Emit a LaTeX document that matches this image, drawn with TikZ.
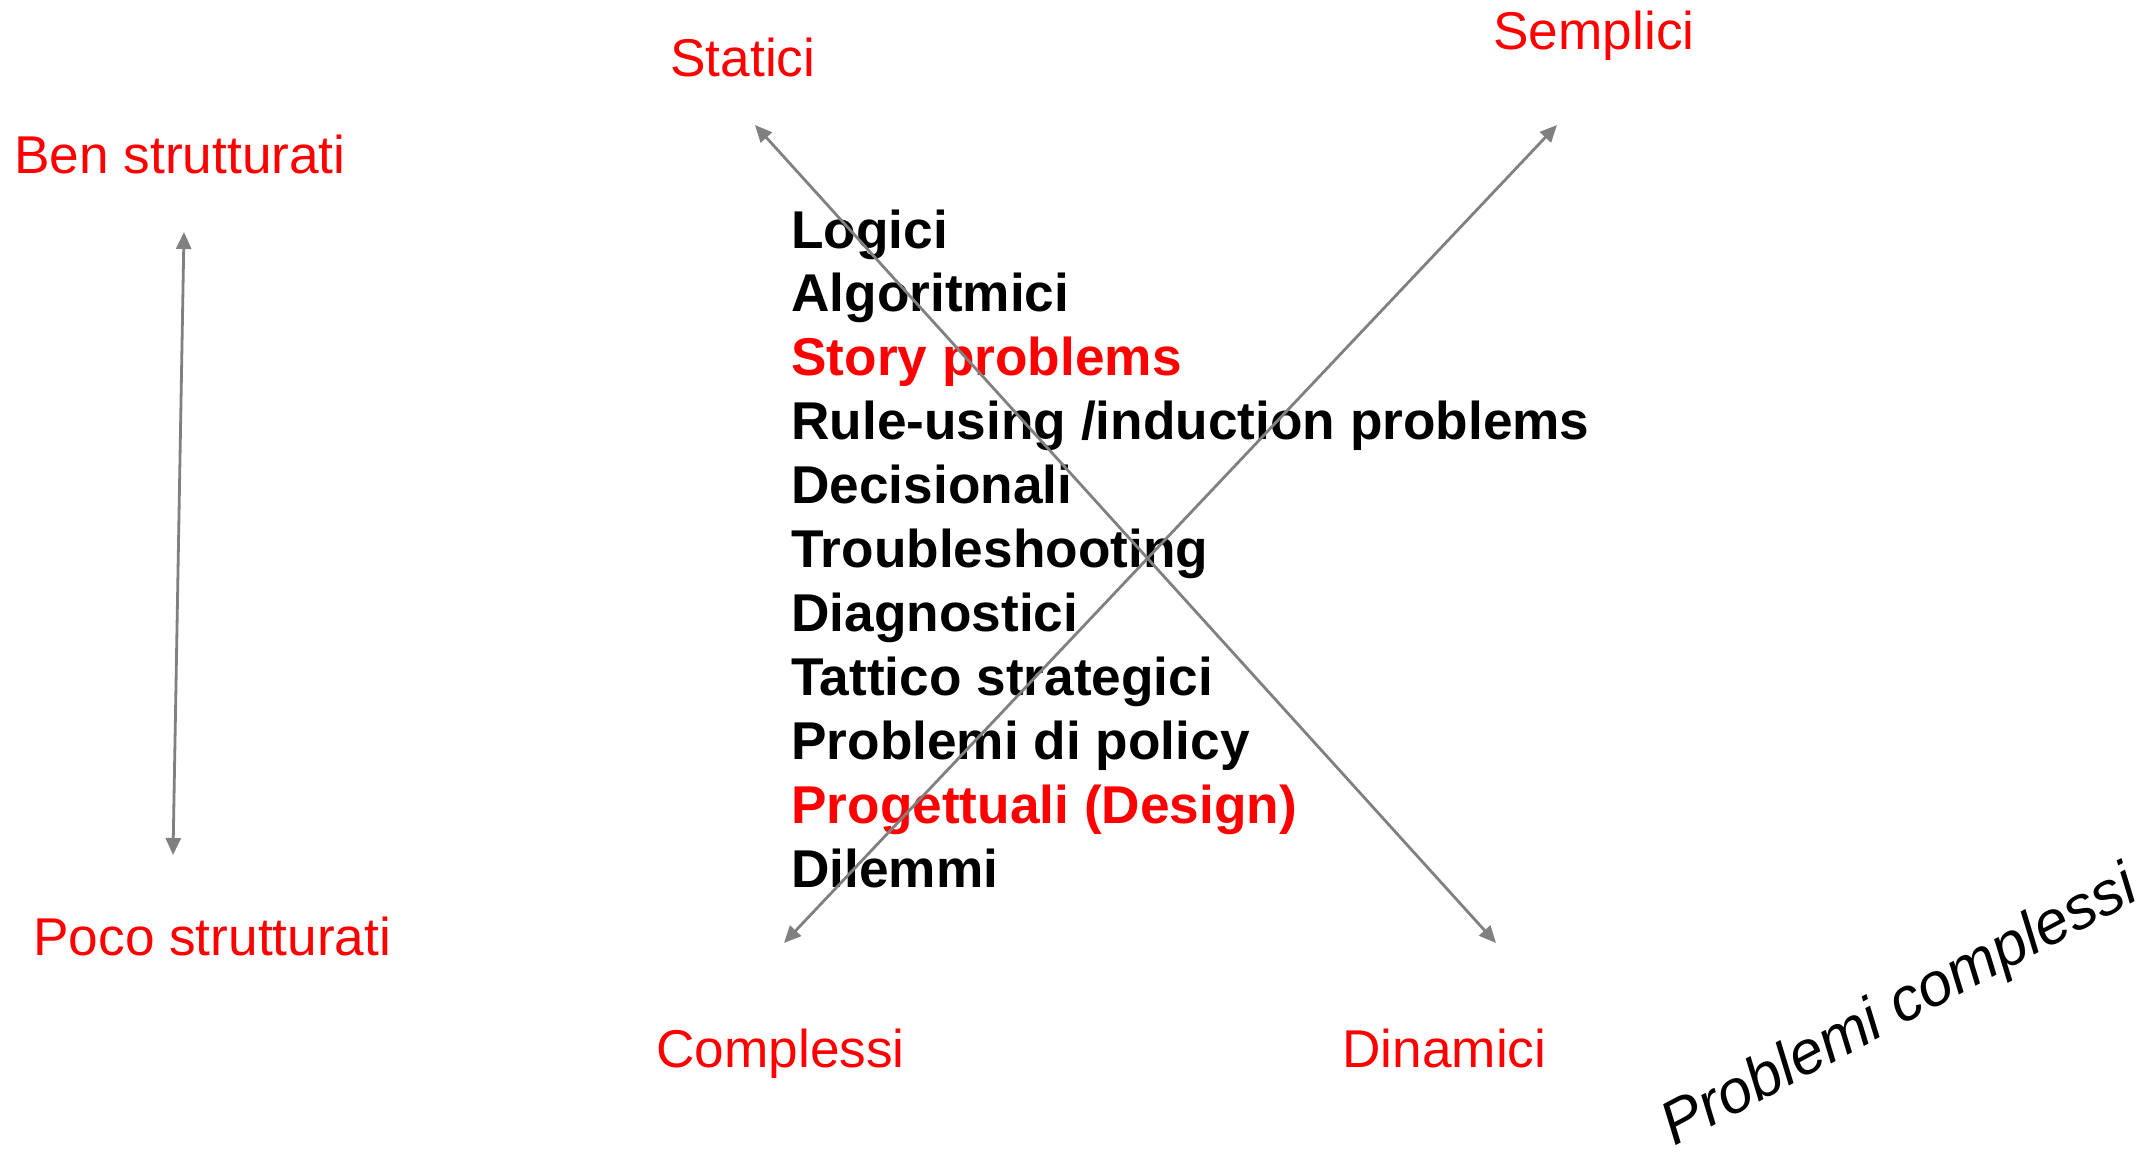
\documentclass[tikz,border=0pt]{standalone}
\usepackage{fontspec}
\setmainfont{Liberation Sans}
\usetikzlibrary{arrows.meta}
\definecolor{axisred}{RGB}{255,0,0}
\definecolor{axisgray}{RGB}{128,128,128}
\tikzset{
  axislabel/.style={anchor=base west, inner sep=0pt, text=axisred, font=\fontsize{26.6}{30}\selectfont},
  itemtext/.style={anchor=base west, inner sep=0pt, font=\fontsize{26.6}{30}\selectfont\bfseries},
  axisarrow/.style={draw=axisgray, line width=1.4pt, {Triangle[length=8.5pt,width=7.5pt]}-{Triangle[length=8.5pt,width=7.5pt]}},
  handnote/.style={anchor=base west, inner sep=0pt, rotate=28, font=\fontsize{30.5}{33}\selectfont\itshape}
}
\begin{document}
\begin{tikzpicture}[x=0.5pt,y=-0.5pt]
\useasboundingbox (0,0) rectangle (2151,1157);
% axis labels
\node[axislabel] (ben) at (14,173) {Ben strutturati};
\node[axislabel] (poco) at (33,955) {Poco strutturati};
\node[axislabel] (statici) at (670,76) {Statici};
\node[axislabel] (semplici) at (1493,49) {Semplici};
\node[axislabel] (complessi) at (656,1067) {Complessi};
\node[axislabel] (dinamici) at (1342,1067) {Dinamici};
% list
\node[itemtext] (l1) at (791,248) {Logici};
\node[itemtext] (l2) at (791,311.9) {Algoritmici};
\node[itemtext, text=axisred] (l3) at (791,375.8) {Story problems};
\node[itemtext] (l4) at (791,439.7) {Rule-using /induction problems};
\node[itemtext] (l5) at (791,503.6) {Decisionali};
\node[itemtext] (l6) at (791,567.5) {Troubleshooting};
\node[itemtext] (l7) at (791,631.4) {Diagnostici};
\node[itemtext] (l8) at (791,695.3) {Tattico strategici};
\node[itemtext] (l9) at (791,759.2) {Problemi di policy};
\node[itemtext, text=axisred] (l10) at (791,823.1) {Progettuali (Design)};
\node[itemtext] (l11) at (791,887) {Dilemmi};
% arrow end points
\coordinate (vtop) at (184,232);
\coordinate (vbot) at (173,855);
\coordinate (sta) at (755,125);
\coordinate (din) at (1496,943);
\coordinate (sem) at (1557,125);
\coordinate (com) at (784,943);
\draw[axisarrow] (vtop) -- (vbot);
\draw[axisarrow] (sta) -- (din);
\draw[axisarrow] (sem) -- (com);
% handwritten note
\node[handnote] (note) at (1674,1147) {Problemi complessi};
\end{tikzpicture}
\end{document}
